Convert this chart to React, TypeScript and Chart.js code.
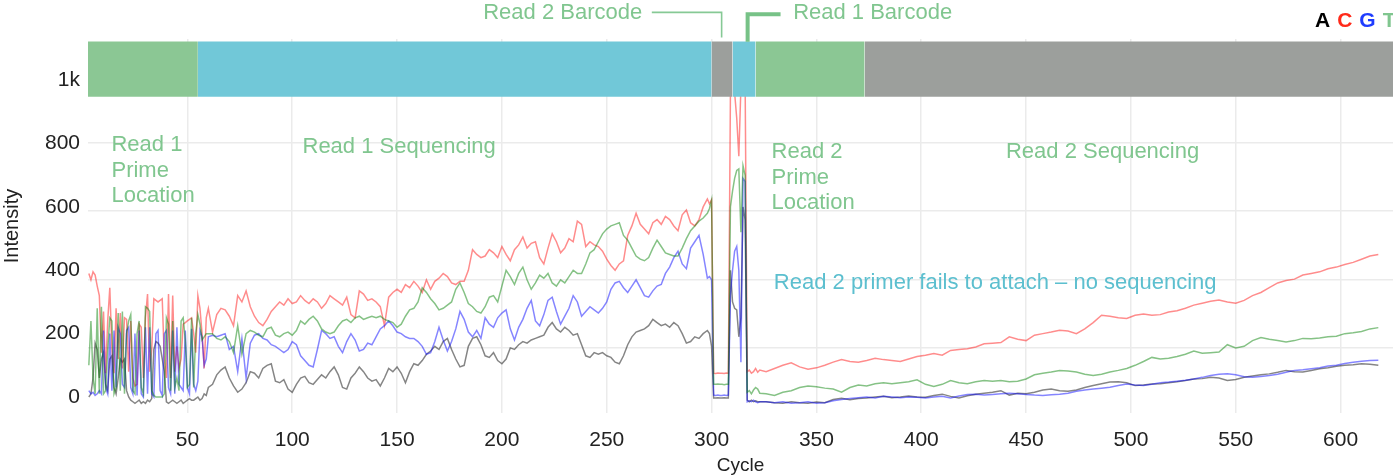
import React, { useEffect, useRef } from "react";
import { Chart, registerables } from "chart.js";

Chart.register(...registerables);

// Cycle numbers at which the traces are sampled: [first, last, step]
const cycleRuns: [number, number, number][] = [
  [3, 60, 1],
  [62, 298, 2],
  [299, 323, 1],
  [326, 618, 4],
];
const cycles: number[] = [];
for (const [first, last, step] of cycleRuns) {
  for (let c = first; c <= last; c += step) cycles.push(c);
}

// Per-base intensities, one value per sampled cycle
const intensityA = [
  // cycles 3-60
  0, 10, 60, 170, 150, 60, 120, 140, 40, 20,
  120, 130, 30, 10, 60, 120, 110, 120, 20, 0,
  -10, -15, -20, -15, -10, -20, -15, -20, -10, -15,
  -5, 150, 175, 170, 160, 120, 80, -15, -20, -15,
  -10, -15, -20, -15, -10, -20, -15, -10, -5, -10,
  -10, -5, 0, -10, -5, 10, 5, 30,
  // cycles 62-298
  40, 70, 85, 95, 60, 35, 15, 25, 45, 80,
  75, 60, 90, 100, 105, 50, 45, 55, 25, 15,
  40, 60, 65, 45, 40, 55, 70, 60, 80, 95,
  70, 30, 25, 60, 75, 95, 80, 60, 50, 55,
  35, 60, 90, 80, 95, 75, 45, 80, 105, 100,
  115, 135, 145, 160, 150, 175, 185, 150, 120, 95,
  100, 160, 185, 190, 165, 130, 125, 140, 115, 105,
  120, 155, 150, 165, 175, 170, 180, 185, 190, 195,
  220, 235, 215, 205, 220, 210, 195, 200, 165, 130,
  125, 140, 135, 140, 130, 125, 110, 105, 130, 165,
  190, 205, 210, 215, 225, 245, 235, 225, 230, 220,
  235, 225, 200, 170, 175, 190, 185, 200, 210,
  // cycles 299-323
  200, 160, -3, -3, -2, -3, -3, -2, -3, -3,
  400, 300, 280, 275, 190, 250, 600, 560, -10, -15,
  -10, -15, -12, -15, -15,
  // cycles 326-618
  -15, -18, -20, -15, -18, -20, -16, -18, -8, -4,
  -9, -5, -3, 0, 2, -2, 0, 3, 0, -1,
  5, 9, 2, -3, 4, 9, 12, 15, 20, 6,
  12, 10, 15, 22, 25, 20, 18, 22, 30, 36,
  42, 47, 48, 45, 36, 38, 41, 42, 45, 48,
  52, 57, 58, 62, 60, 52, 55, 62, 66, 70,
  73, 78, 84, 80, 79, 84, 89, 92, 97, 100,
  102, 105, 103, 100,
];

const intensityC = [
  // cycles 3-60
  390, 370, 395, 385, 350, 320, 140, 270, 75, 240,
  345, 150, 75, 280, 120, 265, 90, 250, 245, 80,
  240, 60, 35, 40, 230, 220, 60, 250, 325, 80,
  150, 310, 305, 300, 305, 310, 120, 60, 325, 60,
  320, 80, 160, 90, 120, 230, 235, 240, 245, 250,
  200, 140, 320, 280, 200, 90, 250, 280,
  // cycles 62-298
  205, 260, 280, 275, 255, 225, 320, 300, 335, 285,
  255, 235, 225, 245, 270, 285, 300, 290, 310, 295,
  300, 320, 305, 295, 310, 300, 280, 295, 320, 310,
  300, 290, 315, 260, 250, 335, 325, 305, 310, 300,
  285, 225, 315, 330, 340, 330, 355, 345, 365, 350,
  330, 370, 340, 365, 375, 390, 380, 360, 355, 365,
  365, 400, 465, 450, 440, 445, 465, 455, 440, 475,
  450, 430, 465, 480, 505, 470, 485, 490, 440, 420,
  470, 515, 490, 455, 470, 500, 490, 555, 545, 475,
  490, 480, 475, 460, 435, 415, 400, 420, 430, 510,
  540, 580, 545, 530, 515, 550, 560, 545, 570, 560,
  540, 525, 575, 590, 550, 540, 560, 600, 625,
  // cycles 299-323
  610, 622, 75, 74, 76, 75, 75, 74, 76, 75,
  960, 1040, 960, 880, 760, 980, 1050, 1000, 80, 85,
  75, 80, 90, 78, 85,
  // cycles 326-618
  80, 90, 100, 108, 95, 88, 92, 100, 110, 118,
  112, 110, 115, 122, 118, 115, 112, 120, 128, 132,
  137, 132, 147, 150, 152, 158, 168, 170, 172, 190,
  182, 178, 195, 200, 205, 211, 208, 200, 215, 235,
  258, 255, 250, 248, 258, 262, 258, 260, 268, 272,
  280, 290, 296, 302, 306, 300, 296, 305, 320, 330,
  345, 360, 368, 372, 385, 390, 395, 405, 410, 418,
  425, 435, 445, 450,
];

const intensityG = [
  // cycles 3-60
  20, 10, 15, 5, 10, 20, 10, 210, 30, 10,
  200, 20, 210, 30, 220, 200, 40, 30, 210, 220,
  30, 10, 200, 5, 210, 10, 0, 220, 10, 220,
  10, 0, 200, 210, 20, 5, 200, 210, 30, 10,
  210, 10, 220, 40, 30, 20, 210, 30, 10, 215,
  40, 20, 50, 210, 190, 100, 120, 190,
  // cycles 62-298
  195, 190, 195, 200, 150, 160, 80, 185, 60, 170,
  195, 200, 185, 180, 165, 160, 150, 140, 150, 175,
  165, 130, 115, 100, 95, 150, 210, 200, 185, 190,
  160, 140, 175, 200, 180, 145, 150, 170, 165, 190,
  215, 225, 240, 225, 205, 200, 190, 185, 185, 175,
  160, 135, 140, 175, 220, 180, 145, 175, 215, 270,
  245, 205, 190, 210, 185, 250, 230, 220, 250, 265,
  275, 215, 180, 220, 245, 280, 305, 240, 225, 260,
  305, 315, 270, 230, 255, 280, 320, 300, 255, 270,
  285, 275, 265, 280, 300, 340, 360, 365, 345, 330,
  350, 370, 345, 320, 315, 335, 350, 355, 390, 410,
  440, 460, 420, 405, 470, 490, 510, 450, 375,
  // cycles 299-323
  380, 370, 6, 5, 6, 5, 5, 6, 5, 6,
  320, 400, 460, 475, 400, 110, 690, 680, -15, -12,
  -15, -10, -15, -18, -15,
  // cycles 326-618
  -15, -18, -15, -20, -18, -15, -20, -18, -12, -8,
  -5, -2, 0, -3, 2, 0, -2, 0, -1, -3,
  0, 2, -3, 3, 8, 9, 6, 8, 10, 12,
  10, 8, 6, 5, 7, 9, 12, 18, 22, 25,
  28, 31, 36, 41, 38, 36, 40, 45, 47, 50,
  53, 57, 62, 68, 72, 73, 70, 64, 62, 65,
  68, 72, 78, 84, 86, 89, 92, 98, 100, 106,
  110, 113, 115, 116,
];

const intensityT = [
  // cycles 3-60
  100, 240, 60, 10, 280, 10, 285, 10, 20, 150,
  250, 240, 10, 30, 265, 20, 270, 10, 200, 240,
  260, 20, 10, 200, 240, 30, 10, 285, 280, 270,
  20, 5, 0, 0, 0, 0, 10, 250, 230, 20,
  240, 30, 60, 20, 240, 250, 180, 30, 40, 250,
  30, 200, 260, 230, 180, 190, 200, 200,
  // cycles 62-298
  200, 185, 180, 190, 175, 140, 225, 135, 200, 210,
  205, 195, 190, 215, 220, 195, 190, 200, 205, 195,
  210, 240, 230, 245, 255, 240, 215, 205, 200, 205,
  225, 240, 245, 235, 250, 255, 245, 250, 255, 250,
  255, 245, 240, 235, 220, 230, 255, 275, 280, 300,
  345, 330, 310, 295, 275, 280, 290, 300, 340, 360,
  330, 295, 285, 270, 265, 285, 315, 320, 300, 350,
  400, 380, 355, 390, 410, 370, 340, 360, 385, 375,
  390, 360, 350, 370, 360, 380, 400, 390, 390, 420,
  455, 465, 490, 515, 530, 540, 545, 550, 510, 495,
  470, 445, 435, 430, 440, 470, 495, 475, 455, 450,
  445, 445, 470, 500, 525, 540, 555, 565, 580,
  // cycles 299-323
  595, 622, 40, 40, 41, 40, 40, 39, 40, 40,
  600, 650, 690, 715, 720, 520, 730, 700, 15, 20,
  10, 22, 30, 25, 12,
  // cycles 326-618
  10, 5, 15, 20, 30, 35, 32, 28, 25, 15,
  30, 38, 35, 42, 45, 42, 45, 48, 54, 40,
  33, 40, 52, 45, 42, 48, 52, 50, 52, 48,
  50, 57, 70, 75, 79, 84, 82, 79, 72, 68,
  72, 79, 84, 90, 100, 112, 125, 120, 122, 128,
  135, 145, 138, 140, 142, 165, 155, 160, 178, 188,
  182, 178, 174, 178, 185, 184, 186, 190, 192, 200,
  203, 207, 215, 219,
];

// Axes
const xRange = [2.6, 625];
const yRange = [-50.5, 1130];
const xTickValues = [50, 100, 150, 200, 250, 300, 350, 400, 450, 500, 550, 600];
const yTickValues = [0, 200, 400, 600, 800, 1000];
const gridAxisRange = [0.044, 5.52];
const gridAxisLines = [1, 2, 3, 4];

// Read-structure band along the top
const bandEdges = [2.6, 55, 300, 310, 321, 373, 625];
const bandColors = ["#8bc794", "#71c8d8", "#9c9f9c", "#71c8d8", "#8bc794", "#9c9f9c"];
const bandSpan = [948, 1122];

const GREEN_TEXT = "#80c68f";
const CYAN_TEXT = "#5cbfcf";
const FONT = '"Liberation Sans", Arial, Helvetica, sans-serif';

const regionLabels = [
  { lines: ["Read 1", "Prime", "Location"], cycle: 13.8, value: 796, color: GREEN_TEXT },
  { lines: ["Read 1 Sequencing"], cycle: 104.9, value: 790, color: GREEN_TEXT },
  { lines: ["Read 2", "Prime", "Location"], cycle: 328.6, value: 774, color: GREEN_TEXT },
  { lines: ["Read 2 Sequencing"], cycle: 440.4, value: 772, color: GREEN_TEXT },
  { lines: ["Read 2 primer fails to attach \u2013 no sequencing"], cycle: 329.7, value: 361, color: CYAN_TEXT },
  { lines: ["Read 2 Barcode"], cycle: 191.1, value: 1211, color: GREEN_TEXT },
  { lines: ["Read 1 Barcode"], cycle: 338.9, value: 1211, color: GREEN_TEXT },
];

const barcodeCallouts = [
  { points: [[271.5, 1214], [304.8, 1214], [304.8, 1135]], width: 1.6, color: "#86c995" },
  { points: [[332.9, 1208], [317.2, 1208], [317.2, 1121]], width: 4, color: "#77c287" },
];

const baseLegend = [
  { text: "A", color: "#000000" },
  { text: "C", color: "#ff2a1a" },
  { text: "G", color: "#1f3dff" },
  { text: "T", color: "#80c68f" },
];

const seriesStyles = [
  { label: "T", values: intensityT, color: "rgba(0,128,0,0.48)" },
  { label: "G", values: intensityG, color: "rgba(0,0,255,0.48)" },
  { label: "C", values: intensityC, color: "rgba(255,0,0,0.45)" },
  { label: "A", values: intensityA, color: "rgba(0,0,0,0.48)" },
];

const overlayPlugin = {
  id: "readStructureOverlay",
  afterDraw(chart: any) {
    const { ctx } = chart;
    const xs = chart.scales.x;
    const ys = chart.scales.y;
    ctx.save();

    for (const c of barcodeCallouts) {
      ctx.beginPath();
      c.points.forEach(([cx, cv], i) => {
        const px = xs.getPixelForValue(cx);
        const py = ys.getPixelForValue(cv);
        if (i === 0) ctx.moveTo(px, py);
        else ctx.lineTo(px, py);
      });
      ctx.strokeStyle = c.color;
      ctx.lineWidth = c.width;
      ctx.lineJoin = "miter";
      ctx.stroke();
    }

    ctx.font = `22px ${FONT}`;
    ctx.textAlign = "left";
    ctx.textBaseline = "middle";
    for (const label of regionLabels) {
      const px = xs.getPixelForValue(label.cycle);
      const py = ys.getPixelForValue(label.value);
      ctx.fillStyle = label.color;
      label.lines.forEach((line, i) => ctx.fillText(line, px, py + i * 25.7));
    }

    ctx.font = `bold 21px ${FONT}`;
    let lx = chart.width - 78;
    for (const item of baseLegend) {
      ctx.fillStyle = item.color;
      ctx.fillText(item.text, lx, 21);
      lx += ctx.measureText(item.text).width + 7;
    }
    ctx.restore();
  },
};

export default function App() {
  const canvasRef = useRef<HTMLCanvasElement | null>(null);

  useEffect(() => {
    const canvas = canvasRef.current;
    if (!canvas) return;

    // Band segments are drawn last (lowest order) so they sit above the traces
    const bandDatasets = bandColors.map((color, i) => ({
      label: `band-${i}`,
      data: [
        { x: bandEdges[i], y: bandSpan[1] },
        { x: bandEdges[i + 1], y: bandSpan[1] },
      ],
      borderWidth: 0,
      borderColor: "transparent",
      backgroundColor: color,
      fill: { value: bandSpan[0] },
      pointRadius: 0,
      order: 0,
    }));

    // Traces are clipped at the lower edge of the band
    const traceDatasets = seriesStyles.map((s) => ({
      label: s.label,
      data: s.values.map((v, i) => ({ x: cycles[i], y: v })),
      borderColor: s.color,
      borderWidth: 1.5,
      pointRadius: 0,
      tension: 0,
      fill: false,
      order: 1,
      clip: { left: 0, right: 0, bottom: 0, top: -57 },
    }));

    const tickFont = { family: FONT, size: 21 };
    const gridColor = "#ebebeb";

    const chart = new Chart(canvas, {
      type: "line",
      data: { datasets: [...bandDatasets, ...traceDatasets] as any },
      options: {
        responsive: false,
        animation: false,
        devicePixelRatio: 1,
        events: [],
        layout: { padding: { top: 39, left: 0, right: 0, bottom: 0 } },
        plugins: {
          legend: { display: false },
          tooltip: { enabled: false },
        },
        scales: {
          x: {
            type: "linear",
            min: xRange[0],
            max: xRange[1],
            afterBuildTicks: (axis: any) => {
              axis.ticks = xTickValues.map((value) => ({ value }));
            },
            afterFit: (axis: any) => {
              axis.height = 62;
            },
            ticks: { font: tickFont, color: "#222", padding: 15, maxRotation: 0, autoSkip: false },
            grid: { color: gridColor, lineWidth: 1.5, drawTicks: false },
            border: { display: false },
            title: {
              display: true,
              text: "Cycle",
              color: "#222",
              font: { family: FONT, size: 19, lineHeight: 1 },
              padding: { top: 0, bottom: 0 },
            },
          },
          y: {
            type: "linear",
            position: "left",
            min: yRange[0],
            max: yRange[1],
            afterBuildTicks: (axis: any) => {
              axis.ticks = yTickValues.map((value) => ({ value }));
            },
            afterFit: (axis: any) => {
              axis.width = 88;
            },
            ticks: {
              font: tickFont,
              color: "#222",
              padding: 8,
              callback: (v: any) => (v === 1000 ? "1k" : String(v)),
            },
            grid: { display: false, drawTicks: false },
            border: { display: false },
            title: {
              display: true,
              text: "Intensity",
              color: "#222",
              font: { family: FONT, size: 20 },
              padding: { top: 0, bottom: 0 },
            },
          },
          yGrid: {
            type: "linear",
            position: "left",
            min: gridAxisRange[0],
            max: gridAxisRange[1],
            afterBuildTicks: (axis: any) => {
              axis.ticks = gridAxisLines.map((value) => ({ value }));
            },
            afterFit: (axis: any) => {
              axis.width = 0;
            },
            ticks: { display: false },
            grid: { color: gridColor, lineWidth: 1.5, drawTicks: false },
            border: { display: false },
          },
        },
      } as any,
      plugins: [overlayPlugin],
    });

    return () => chart.destroy();
  }, []);

  return (
    <div style={{ position: "absolute", left: 0, top: 0, width: 1393, height: 475, background: "#fff" }}>
      <canvas ref={canvasRef} width={1393} height={475} style={{ display: "block" }} />
    </div>
  );
}
